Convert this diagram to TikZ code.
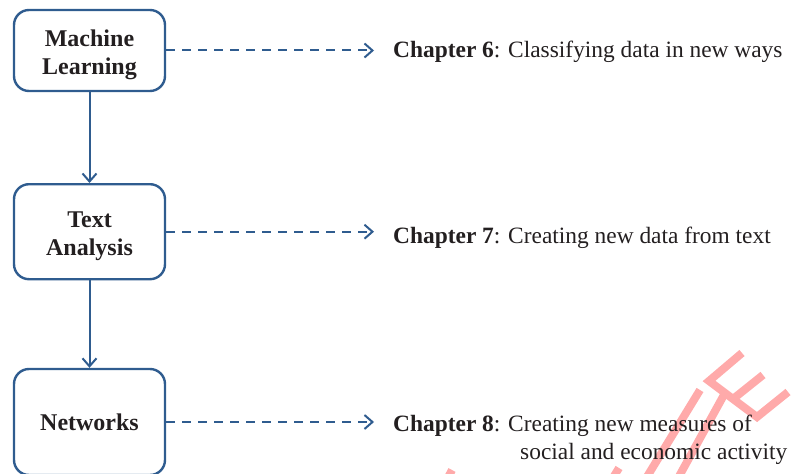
\documentclass[tikz,border=0pt]{standalone}
\usepackage{fontspec}
\setmainfont{Liberation Serif}
\usetikzlibrary{arrows.meta}
\definecolor{boxblue}{HTML}{2F5C8F}
\definecolor{inkgray}{HTML}{231F20}
\definecolor{wmpink}{HTML}{FFAAAA}
\newcommand{\topstrut}{\rule{0pt}{20pt}}
\tikzset{
  topic/.style={draw=boxblue, line width=2.4pt, rounded corners=15pt, minimum width=151pt, align=center, font=\fontsize{24}{28}\selectfont\bfseries, text=inkgray, inner sep=0pt, text depth=0pt},
  flow/.style={draw=boxblue, line width=2pt, -{Straight Barb[length=8pt,width=14pt,line width=2pt]}},
  link/.style={flow, dash pattern=on 9pt off 7pt, shorten >=19pt},
  chap/.style={anchor=base west, inner sep=0pt, font=\fontsize{23.4}{28}\selectfont, text=inkgray},
  wm/.style={draw=wmpink, line width=8pt},
}
\begin{document}
\begin{tikzpicture}[x=1pt,y=-1pt]
\useasboundingbox (0,0) rectangle (799,473);
\begin{scope}
\clip (0,0) rectangle (799,473);
% faint watermark fragments
\draw[wm] (645,480) -- (700,390);
\draw[wm] (677,480) -- (725,393);
\draw[wm, line join=miter] (742,353) -- (709,381) -- (757,417) -- (788,392);
\draw[wm] (733,399) -- (763,375);
\draw[wm] (611,481) -- (619,468);
\draw[wm] (446,481) -- (452,470);
% diagram
\node[topic, minimum height=81pt] (ml) at (89.5,50.5) {\topstrut Machine\\Learning};
\node[topic, minimum height=95pt] (ta) at (89.5,231.7) {\topstrut Text\\Analysis};
\node[topic, minimum height=106pt] (nw) at (89.5,422) {Networks};
\node[chap] (c6) at (393,58) {\textbf{Chapter 6}: Classifying data in new ways};
\node[chap] (c7) at (393,243) {\textbf{Chapter 7}: Creating new data from text};
\node[chap] (c8) at (393,431.5) {\textbf{Chapter 8}: Creating new measures of};
\node[chap] (c8b) at (520,459.5) {social and economic activity};
\draw[flow] (ml) -- (ta);
\draw[flow] (ta) -- (nw);
\draw[link] (ml.east) -- (ml.east -| c6.west);
\draw[link] (ta.east) -- (ta.east -| c7.west);
\draw[link] (nw.east) -- (nw.east -| c8.west);
\end{scope}
\end{tikzpicture}
\end{document}
